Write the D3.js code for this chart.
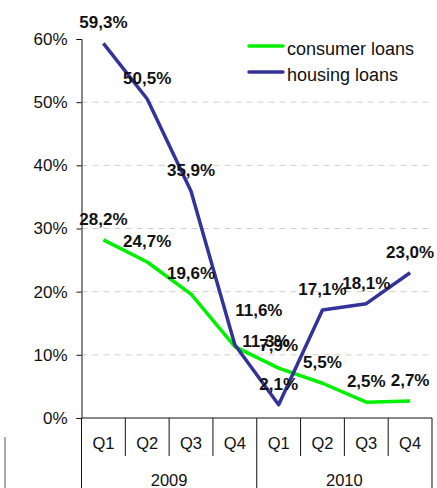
<html>
<head>
<meta charset="utf-8">
<script src="https://d3js.org/d3.v7.min.js"></script>
<style>
  body { margin: 0; background: #fff; }
  text { font-family: Arial, "Liberation Sans", sans-serif; }
</style>
</head>
<body>
<svg width="437" height="488"></svg>
<script>
var quarters = ["Q1", "Q2", "Q3", "Q4", "Q1", "Q2", "Q3", "Q4"];
var years = ["2009", "2010"];
var consumer = [28.2, 24.7, 19.6, 11.3, 7.9, 5.5, 2.5, 2.7];
var housing = [59.3, 50.5, 35.9, 11.6, 2.1, 17.1, 18.1, 23.0];
var yTicks = [0, 10, 20, 30, 40, 50, 60];
// two labels were dragged away from their points in the original
var consumerShift = [[0, 0], [0, 0], [0, 0], [31, 15], [0, -2], [0, 0], [0, 0], [0, 0]];
var housingShift = [[0, 0], [0, 0], [0, 0], [24, -14], [0, 0], [0, 0], [0, 0], [0, 0]];

var plotLeft = 81.5, plotRight = 432, plotTop = 39, plotBottom = 418;

var svg = d3.select("svg");

var x = d3.scaleBand()
   .domain(d3.range(quarters.length))
   .range([plotLeft, plotRight]);

var y = d3.scaleLinear()
   .domain([0, 60])
   .range([plotBottom, plotTop]);

// grid
svg.append("g")
   .selectAll("line")
   .data(yTicks.filter(function(d) { return d > 0 && d < 60; }))
   .enter().append("line")
     .attr("x1", plotLeft).attr("x2", plotRight)
     .attr("y1", function(d) { return y(d); })
     .attr("y2", function(d) { return y(d); })
     .attr("stroke", "#cfcfcf")
     .attr("stroke-dasharray", "6,5");

// y axis
var yAxis = svg.append("g")
   .attr("transform", "translate(" + plotLeft + ",0)")
   .call(d3.axisLeft(y).tickValues(yTicks).tickSize(5).tickPadding(9)
      .tickFormat(function(d) { return d + "%"; }));
yAxis.selectAll("text").attr("font-size", 17).attr("fill", "#111").attr("font-family", "Arial, 'Liberation Sans', sans-serif");
yAxis.selectAll("line, path").attr("stroke", "#111");

// x axis: quarter ticks hang below the line
var xAxis = svg.append("g")
   .attr("transform", "translate(0," + plotBottom + ")")
   .call(d3.axisBottom(x).tickSize(0).tickPadding(19)
      .tickFormat(function(i) { return quarters[i]; }));
xAxis.select("path").attr("stroke", "#111").attr("d", "M" + plotLeft + ",0H" + plotRight);
xAxis.selectAll("text").attr("font-size", 16.5).attr("fill", "#111").attr("font-family", "Arial, 'Liberation Sans', sans-serif");

var edges = d3.range(quarters.length + 1).map(function(i) {
  return i < quarters.length ? x(i) : x(i - 1) + x.bandwidth();
});
svg.append("g")
   .selectAll("line")
   .data(edges)
   .enter().append("line")
     .attr("x1", function(d) { return d; })
     .attr("x2", function(d) { return d; })
     .attr("y1", plotBottom)
     .attr("y2", function(d, i) { return i % 4 === 0 ? 488 : 456; })
     .attr("stroke", "#111");

svg.append("g")
   .selectAll("text")
   .data(years)
   .enter().append("text")
     .attr("x", function(d, i) { return (edges[i * 4] + edges[i * 4 + 4]) / 2; })
     .attr("y", 486)
     .attr("text-anchor", "middle")
     .attr("font-size", 16.5)
     .attr("fill", "#111")
     .text(function(d) { return d; });

// lines
var line = d3.line()
   .x(function(d, i) { return x(i) + x.bandwidth() / 2; })
   .y(function(d) { return y(d); });

function drawSeries(values, color) {
  svg.append("path")
     .datum(values)
     .attr("fill", "none")
     .attr("stroke", color)
     .attr("stroke-width", 3.5)
     .attr("stroke-linejoin", "round")
     .attr("d", line);
}
drawSeries(consumer, "#00f000");
drawSeries(housing, "#333399");

function drawLabels(values, shift) {
  svg.append("g")
     .selectAll("text")
     .data(values)
     .enter().append("text")
       .attr("x", function(d, i) { return x(i) + x.bandwidth() / 2 + shift[i][0]; })
       .attr("y", function(d, i) { return y(d) - 15 + shift[i][1]; })
       .attr("text-anchor", "middle")
       .attr("font-size", 17)
       .attr("font-weight", "bold")
       .attr("fill", "#111")
       .text(function(d) { return d.toFixed(1).replace(".", ",") + "%"; });
}
drawLabels(consumer, consumerShift);
drawLabels(housing, housingShift);

// legend
var legend = [["consumer loans", "#00f000"], ["housing loans", "#333399"]];
var lg = svg.append("g")
   .selectAll("g")
   .data(legend)
   .enter().append("g")
     .attr("transform", function(d, i) { return "translate(249," + (46 + i * 26) + ")"; });
lg.append("line")
   .attr("x1", 0).attr("x2", 34)
   .attr("stroke", function(d) { return d[1]; })
   .attr("stroke-width", 3.5)
   .attr("stroke-linecap", "round");
lg.append("text")
   .attr("x", 38)
   .attr("y", 9)
   .attr("font-size", 18)
   .attr("fill", "#111")
   .text(function(d) { return d[0]; });

// remnant of the neighbouring chart at the left edge
svg.append("line")
   .attr("x1", 5).attr("x2", 5).attr("y1", 437).attr("y2", 488)
   .attr("stroke", "#555");
</script>
</body>
</html>
